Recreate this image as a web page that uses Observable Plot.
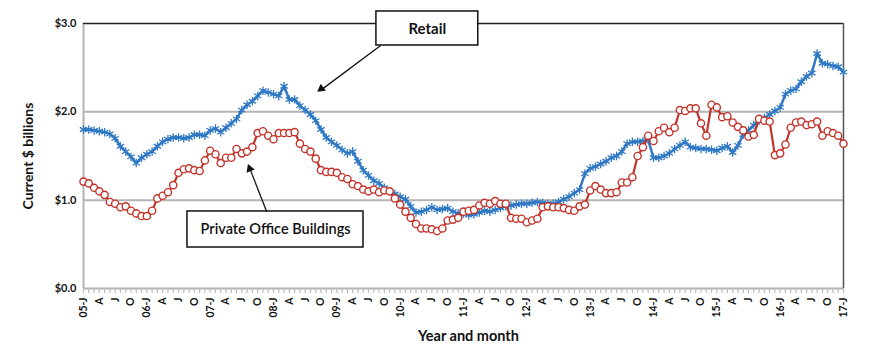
<!DOCTYPE html>
<html><head><meta charset="utf-8">
<script src="https://cdn.jsdelivr.net/npm/d3@7"></script>
<script src="https://cdn.jsdelivr.net/npm/@observablehq/plot@0.6"></script>
<style>body{margin:0;background:#fff;} #chart{width:870px;height:354px;}</style>
</head><body><div id="chart"></div>
<script>
// Monthly values, Jan 2005 .. Jan 2017 (145 months), current $ billions
const retail = [
1.80,1.80,1.79,1.78,1.77,1.75,1.70,1.61,1.55,1.49,1.42,1.48,
1.52,1.55,1.61,1.66,1.69,1.71,1.71,1.70,1.71,1.74,1.74,1.73,
1.79,1.81,1.77,1.82,1.87,1.92,2.02,2.08,2.12,2.18,2.24,2.22,
2.20,2.18,2.29,2.14,2.14,2.07,2.02,1.97,1.90,1.80,1.71,1.66,
1.62,1.57,1.53,1.55,1.44,1.34,1.28,1.22,1.19,1.14,1.10,1.07,
1.04,1.01,0.93,0.86,0.87,0.89,0.92,0.89,0.90,0.91,0.87,0.85,
0.85,0.83,0.84,0.86,0.88,0.87,0.89,0.91,0.93,0.94,0.95,0.96,
0.96,0.97,0.98,0.97,0.96,0.96,0.98,1.01,1.04,1.08,1.12,1.30,
1.36,1.38,1.41,1.44,1.48,1.50,1.55,1.64,1.66,1.66,1.67,1.68,
1.48,1.48,1.50,1.53,1.58,1.62,1.66,1.60,1.59,1.58,1.58,1.57,
1.56,1.59,1.61,1.54,1.62,1.74,1.79,1.85,1.90,1.93,1.97,2.01,
2.05,2.20,2.24,2.26,2.34,2.40,2.44,2.66,2.55,2.54,2.52,2.51,
2.45];
const office = [
1.21,1.19,1.14,1.10,1.06,0.98,0.96,0.92,0.93,0.88,0.85,0.82,
0.82,0.88,1.02,1.05,1.09,1.17,1.31,1.35,1.36,1.34,1.33,1.45,
1.56,1.52,1.42,1.48,1.48,1.58,1.53,1.55,1.60,1.76,1.78,1.73,
1.69,1.76,1.76,1.76,1.77,1.64,1.58,1.55,1.47,1.34,1.32,1.32,
1.31,1.26,1.24,1.18,1.16,1.12,1.10,1.12,1.09,1.11,1.10,1.02,
0.95,0.87,0.80,0.73,0.68,0.68,0.67,0.65,0.68,0.77,0.78,0.80,
0.87,0.88,0.89,0.94,0.97,0.96,0.99,0.96,0.96,0.80,0.79,0.79,
0.75,0.77,0.79,0.92,0.93,0.92,0.92,0.91,0.89,0.88,0.93,0.95,
1.11,1.16,1.12,1.08,1.08,1.09,1.20,1.20,1.26,1.50,1.60,1.73,
1.67,1.78,1.82,1.77,1.82,2.02,2.01,2.04,2.04,1.87,1.73,2.08,
2.05,1.94,1.95,1.88,1.83,1.79,1.72,1.74,1.92,1.90,1.89,1.51,
1.53,1.63,1.82,1.88,1.89,1.85,1.86,1.89,1.73,1.78,1.76,1.73,
1.64];
const tickLabels = [
"05-J","A","J","O","06-J","A","J","O","07-J","A","J","O",
"08-J","A","J","O","09-J","A","J","O","10-J","A","J","O",
"11-J","A","J","O","12-J","A","J","O","13-J","A","J","O",
"14-J","A","J","O","15-J","A","J","O","16-J","A","J","O","17-J"];
const yTickLabels = ["$0.0","$1.0","$2.0","$3.0"];
const seriesNames = ["Retail","Private Office Buildings"];
const axisTitles = {x: "Year and month", y: "Current $ billions"};

const blue = "#2f78c4", red = "#c3332b", grid = "#b4b4b4", ink = "#111";
const months = d3.range(retail.length);
const last = months.length - 1;

const chart = Plot.plot({
  width: 870, height: 354,
  marginLeft: 83, marginRight: 27, marginTop: 23, marginBottom: 66,
  x: {domain: [0, last]},
  y: {domain: [0, 3]},
  style: {fontFamily: "Lato, 'DejaVu Sans', sans-serif", background: "#fff", color: "#111"},
  marks: [
    Plot.ruleY([1, 2], {stroke: grid, strokeWidth: 2}),
    Plot.ruleY([0], {stroke: grid, strokeWidth: 2}),
    Plot.ruleX([0], {stroke: grid, strokeWidth: 2}),
    Plot.ruleY([3], {stroke: "#222", strokeWidth: 1.5}),
    Plot.ruleX([last], {stroke: "#555", strokeWidth: 1.5}),
    Plot.axisX({ticks: months, tickSize: 5, tickFormat: () => "", stroke: "#bdbdbd", strokeWidth: 1.2, label: null}),
    Plot.axisX({ticks: d3.range(0, last + 1, 3), tickSize: 0, tickPadding: 9, tickRotate: -90,
      tickFormat: i => tickLabels[i / 3], fontSize: 10.5, fontWeight: "bold", label: null}),
    Plot.axisY({ticks: [0, 1, 2, 3], tickSize: 0, tickPadding: 7, tickFormat: d => yTickLabels[d],
      fontSize: 11, fontWeight: "bold", label: null}),
    Plot.text([axisTitles.x], {text: d => d, frameAnchor: "bottom", lineAnchor: "middle", dy: 48, dx: 5, fontSize: 14.5, fontWeight: "bold"}),
    Plot.text([axisTitles.y], {text: d => d, frameAnchor: "left", textAnchor: "middle", dx: -55, rotate: -90, fontSize: 14, fontWeight: "bold"}),
    Plot.line(retail, {x: (d, i) => i, y: d => d, stroke: blue, strokeWidth: 2.5}),
    Plot.dot(retail, {x: (d, i) => i, y: d => d, symbol: "asterisk", r: 4, stroke: blue, strokeWidth: 1.3}),
    Plot.line(office, {x: (d, i) => i, y: d => d, stroke: red, strokeWidth: 2.2}),
    Plot.dot(office, {x: (d, i) => i, y: d => d, r: 3.6, fill: "white", stroke: red, strokeWidth: 1.4}),
    // annotations
    Plot.rect([seriesNames[0]], {x1: 55.5, x2: 74.8, y1: 2.751, y2: 3.136, fill: "white", stroke: ink, strokeWidth: 1.5}),
    Plot.text([seriesNames[0]], {text: d => d, x: 65.15, y: 2.94, fontSize: 15, fontWeight: "bold"}),
    Plot.link([seriesNames[0]], {x1: 56.3, y1: 2.75, x2: 45.3, y2: 2.26, stroke: ink, strokeWidth: 1.3}),
    Plot.dot([seriesNames[0]], {x: 45.05, y: 2.262, symbol: "triangle2", r: 4.2, fill: ink, rotate: 234}),
    Plot.rect([seriesNames[1]], {x1: 19.7, x2: 53.05, y1: 0.464, y2: 0.872, fill: "white", stroke: ink, strokeWidth: 1.5}),
    Plot.text([seriesNames[1]], {text: d => d, x: 36.4, y: 0.668, fontSize: 14.5, fontWeight: 600}),
    Plot.link([seriesNames[1]], {x1: 34.7, y1: 0.872, x2: 31.5, y2: 1.36, stroke: ink, strokeWidth: 1.3}),
    Plot.dot([seriesNames[1]], {x: 31.5, y: 1.355, symbol: "triangle2", r: 4.2, fill: ink, rotate: -21})
  ]
});
document.getElementById("chart").appendChild(chart);
</script>
</body></html>
